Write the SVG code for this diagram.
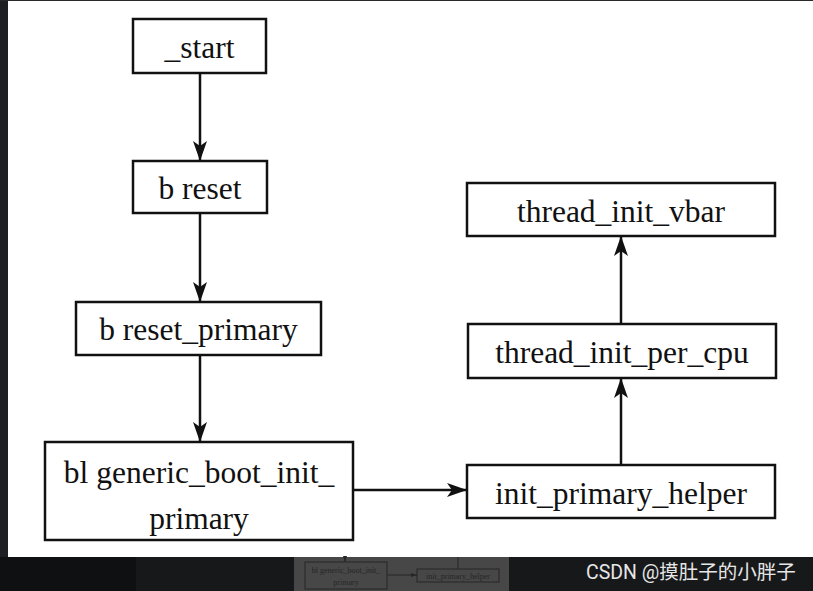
<svg xmlns="http://www.w3.org/2000/svg" width="813" height="591" viewBox="0 0 813 591">
<style>
.box{fill:#fff;stroke:#111;stroke-width:2.5}
.lbl{font-family:"Liberation Serif","Times New Roman",serif;font-size:31.5px;fill:#111;text-anchor:middle}
.edge{stroke:#111;stroke-width:2.5;fill:none}
.tb{fill:none;stroke:#262626;stroke-width:1}
.tt{font-family:"Liberation Serif","Times New Roman",serif;font-size:8px;fill:#262626;text-anchor:middle}
.wm{font-family:"Roboto","Noto Sans CJK SC",sans-serif;font-size:19.5px;fill:#e6e6e6}
</style>
<defs>
<marker id="arr" markerUnits="userSpaceOnUse" markerWidth="20" markerHeight="14" refX="20" refY="7" orient="auto">
<path d="M0,0 L20,7 L0,14 L5,7 Z" fill="#111"/>
</marker>
<marker id="tarr" markerUnits="userSpaceOnUse" markerWidth="6" markerHeight="4" refX="6" refY="2" orient="auto">
<path d="M0,0 L6,2 L0,4 Z" fill="#262626"/>
</marker>
</defs>
<rect x="0" y="0" width="813" height="591" fill="#fff"/>
<rect x="0" y="0" width="8" height="557" fill="#1e1f22"/>
<rect x="0" y="0" width="813" height="1" fill="#2a2a2a"/>
<rect x="0" y="557" width="813" height="34" fill="#17181a"/>
<rect x="0" y="557" width="136" height="34" fill="#0f1012"/>

<g id="connectors">
<line class="edge" x1="200" y1="73" x2="200" y2="161" marker-end="url(#arr)"/>
<line class="edge" x1="200" y1="213" x2="200" y2="302" marker-end="url(#arr)"/>
<line class="edge" x1="200" y1="355" x2="200" y2="442" marker-end="url(#arr)"/>
<line class="edge" x1="353" y1="490" x2="467" y2="490" marker-end="url(#arr)"/>
<line class="edge" x1="621" y1="465" x2="621" y2="378" marker-end="url(#arr)"/>
<line class="edge" x1="621" y1="324" x2="621" y2="236" marker-end="url(#arr)"/>
</g>

<g id="n_start">
<rect class="box" x="133" y="19" width="133" height="54"/>
<text class="lbl" x="199.5" y="58">_start</text>
</g>
<g id="n_breset">
<rect class="box" x="133" y="161" width="134" height="52"/>
<text class="lbl" x="200" y="199">b reset</text>
</g>
<g id="n_resetprimary">
<rect class="box" x="76" y="302" width="245" height="53"/>
<text class="lbl" x="198.5" y="340">b reset_primary</text>
</g>
<g id="n_generic">
<rect class="box" x="45" y="442" width="308" height="98"/>
<text class="lbl" x="199" y="483">bl generic_boot_init_</text>
<text class="lbl" x="199" y="529">primary</text>
</g>
<g id="n_helper">
<rect class="box" x="467" y="465" width="308" height="53"/>
<text class="lbl" x="621" y="504">init_primary_helper</text>
</g>
<g id="n_percpu">
<rect class="box" x="468" y="324" width="308" height="54"/>
<text class="lbl" x="622" y="363">thread_init_per_cpu</text>
</g>
<g id="n_vbar">
<rect class="box" x="467" y="183" width="308" height="53"/>
<text class="lbl" x="621" y="222">thread_init_vbar</text>
</g>

<g id="thumbnail">
<rect x="294" y="557" width="215" height="34" fill="#474747"/>
<line x1="345" y1="557" x2="345" y2="562" stroke="#262626" stroke-width="1" marker-end="url(#tarr)"/>
<rect class="tb" x="305" y="562" width="82" height="27"/>
<text class="tt" x="346" y="573">bl generic_boot_init_</text>
<text class="tt" x="346" y="585">primary</text>
<line x1="387" y1="575" x2="417" y2="575" stroke="#262626" stroke-width="1" marker-end="url(#tarr)"/>
<rect class="tb" x="417" y="569" width="82" height="13"/>
<text class="tt" x="458" y="578.5">init_primary_helper</text>
<line x1="458" y1="557" x2="458" y2="569" stroke="#262626" stroke-width="1"/>
</g>

<text class="wm" x="586" y="579">CSDN @摸肚子的小胖子</text>
</svg>
